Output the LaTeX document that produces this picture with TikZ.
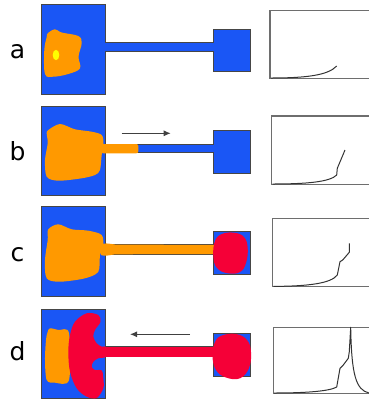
\documentclass[tikz,border=0pt]{standalone}
\usepackage{fontspec}
\setmainfont{DejaVu Sans}
\usetikzlibrary{arrows.meta}
\definecolor{devblue}{RGB}{26,86,245}
\definecolor{devorange}{RGB}{255,153,0}
\definecolor{devred}{RGB}{245,0,55}
\definecolor{devyellow}{RGB}{255,255,0}
\definecolor{edgegray}{RGB}{70,70,70}
\definecolor{panelgray}{RGB}{110,110,110}
\newcommand\mydevice[6]{%
  \fill[devblue,draw=edgegray,line width=1pt]
    (41.7,#1) -- (105.3,#1) -- (105.3,#3) -- (213,#3) -- (213,#5) -- (250,#5)
    -- (250,#6) -- (213,#6) -- (213,#4) -- (105.3,#4) -- (105.3,#2) -- (41.7,#2) -- cycle;}
\newcommand\mypanel[3]{%
  \draw[panelgray,line width=1.2pt] (369,#2) -- (#1,#2) -- (#1,#3) -- (369,#3);}
\begin{document}
\begin{tikzpicture}[x=1pt,y=-1pt,
  lbl/.style={font=\fontsize{25}{25}\selectfont,anchor=base,inner sep=0pt},
  curve/.style={black!80,line width=1pt,line join=round},
  flow/.style={black!75,line width=1pt,-{Latex[length=7pt,width=6pt]}},
  blob/.style={line join=round}]
\useasboundingbox (0,0) rectangle (369,400);
% labels
\node[lbl] (la) at (17.5,58.3) {a};
\node[lbl] (lb) at (17.5,160) {b};
\node[lbl] (lc) at (17.5,261.7) {c};
\node[lbl] (ld) at (17.5,360) {d};
% devices
\mydevice{4.3}{94}{42.7}{51}{29}{71.7}
\mydevice{106}{195.7}{144}{152.7}{130.7}{173.3}
\mydevice{206.7}{296.7}{244.3}{254.3}{231}{274}
\mydevice{309}{398}{346.7}{356.7}{333.3}{376.7}
% row a
\fill[devorange] plot[smooth cycle,tension=0.6] coordinates {
  (47.7,33.3) (55,29.3) (61.7,32.5) (78.3,36) (81.7,43) (78.5,56.7)
  (80,68.3) (68.3,74) (53.3,76.7) (45,74) (44.3,50) (46.7,37)};
\fill[devyellow] (56,55) ellipse [x radius=3.3, y radius=5.2];
% row b
\fill[devorange] plot[smooth cycle,tension=0.5] coordinates {
  (48.3,130) (60,124) (75,129.3) (91.7,131.7) (101.7,135) (103.5,143.5)
  (101.7,155) (100,170) (95,175) (81.7,178.3) (58.3,180.7) (46.7,176.7)
  (45,160) (47.7,143.3) (46.7,133.3)};
\fill[devorange,rounded corners=2pt] (101,144) rectangle (138.3,153.3);
\coordinate (ab1) at (121.7,133.3);
\coordinate (ab2) at (170.7,133.3);
\draw[flow] (ab1) -- (ab2);
% row c
\fill[devorange] plot[smooth cycle,tension=0.5] coordinates {
  (48.3,229.3) (58.3,224.3) (71.7,229.3) (88.3,230.7) (101.7,235) (103.3,246.7)
  (100,255) (98.3,271.7) (85,278.3) (60,281.7) (46.7,278.3) (45,260) (47.7,240)};
\fill[devorange] (101,245) .. controls (104,242.5) and (108,243.5) .. (115,244.5)
  -- (214,245) -- (214,254) -- (115,254.3) .. controls (108,255.5) and (104,256.5) .. (101,255) -- cycle;
\fill[devred] plot[smooth cycle,tension=0.7] coordinates {
  (222,234) (234,232.7) (244,237) (247.7,248) (246,263) (240,272)
  (228,273.3) (217,268) (213.3,256) (215,241)};
% row d
\fill[devorange] plot[smooth cycle,tension=0.5] coordinates {
  (47.7,331.7) (50,328.3) (58.3,330) (69,333) (69,380) (55,382.7)
  (46.7,380) (45,360) (46,340)};
\fill[devred] plot[smooth cycle,tension=0.55] coordinates {
  (75,321.7) (86.7,313.3) (98.3,315) (100.5,321.7) (95,330) (93.3,336.7)
  (96.7,343.3) (101.7,346.7) (106,346.9) (106,356.6) (98.3,358.3) (93.3,361.7)
  (91.7,366.7) (95,370) (101.7,370.5) (103.3,378.3) (103.3,388.3) (96.7,398)
  (86.7,396.7) (76.7,388.3) (70,371.7) (68.3,351.7) (70,335)};
\fill[devred] (104,346.9) rectangle (216,356.6);
\fill[devred] plot[smooth cycle,tension=0.7] coordinates {
  (222,335.5) (236,334) (247,340) (251,352) (249,368) (240,378.3)
  (226,377.5) (216,370) (212.5,356) (215,342)};
\coordinate (ad1) at (190,334.3);
\coordinate (ad2) at (130,334.3);
\draw[flow] (ad1) -- (ad2);
% panels
\mypanel{270}{10.7}{78.3}
\mypanel{271.7}{116}{184.3}
\mypanel{272.7}{218.3}{286.7}
\mypanel{273.3}{327.3}{393.3}
% curves
\draw[curve] (271,78) .. controls (305,78) and (328,75.5) .. (336.7,66);
\draw[curve] (272.5,184) .. controls (306,184) and (330,182) .. (336.7,175) -- (337.3,168.3) -- (345,150);
\draw[curve] (273.5,286.4) .. controls (308,286.2) and (331,283.5) .. (337.3,275) -- (340,261.7) -- (342.7,260) -- (349.3,252.3) -- (349.3,243.3);
\draw[curve] (274,393) .. controls (308,393) and (330,391) .. (336.7,387) -- (340,368.3) -- (343.3,365) -- (348.3,358.3) -- (349.3,351.7) -- (350.7,327.3)
  .. controls (351.5,375) and (356,390) .. (369,393);
\end{tikzpicture}
\end{document}
